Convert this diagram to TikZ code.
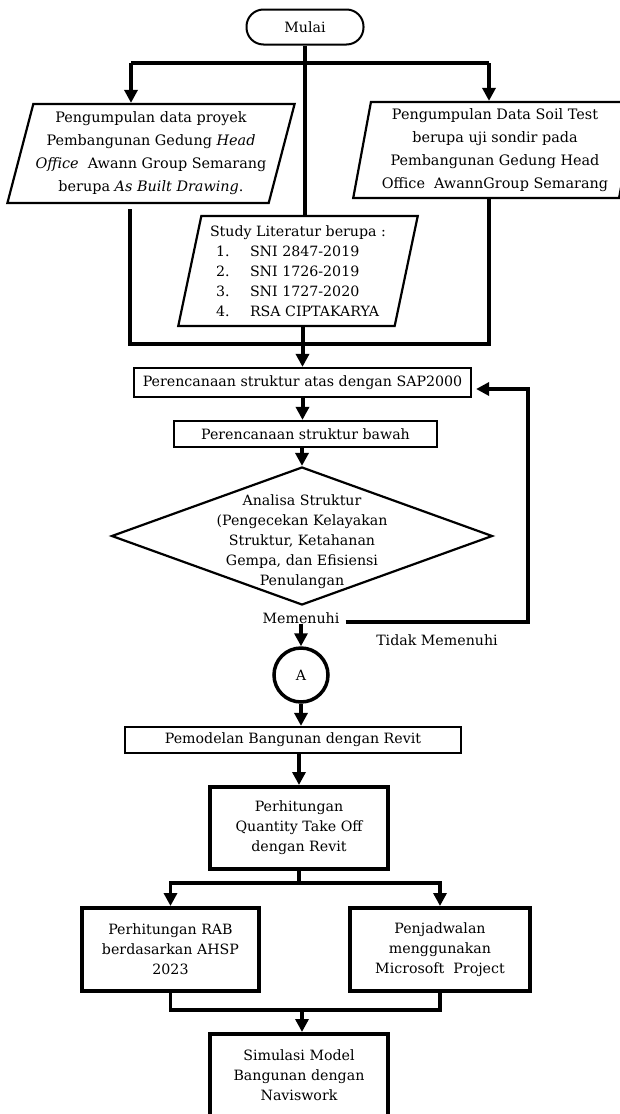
\documentclass[tikz,border=0pt]{standalone}
\usepackage{fontspec}
\setmainfont{DejaVu Serif}
\usetikzlibrary{shapes.geometric,arrows.meta}

\newcommand{\stditem}[2]{\hspace*{6pt}\makebox[34pt][l]{#1}#2}

\begin{document}
\begin{tikzpicture}[
  x=1pt, y=-1pt,
  every node/.style={
    font=\fontsize{14.2}{20}\selectfont, align=center, inner sep=0pt
  },
  proc/.style={
    rectangle, draw, line width=#1
  },
  datain/.style={
    trapezium, draw, line width=2.2pt, trapezium stretches=true
  },
  decision/.style={
    diamond, draw, line width=2.2pt
  },
  flow/.style={
    line width=#1, -{Triangle[length=13pt, width=13pt]}
  },
  flow/.default=4pt,
  link/.style={
    line width=#1
  },
  link/.default=4pt
  ]
  \useasboundingbox (0,0) rectangle (619,1114);

  \node[proc=2pt, rounded corners=17pt, minimum width=117pt, minimum height=35pt] (mulai) at (305,27) {Mulai};

  \node[datain, trapezium left angle=73, trapezium right angle=107,
    minimum width=288pt, minimum height=99pt, font=\fontsize{14.4}{23}\selectfont] (datapro) at (151,153.5)
    {Pengumpulan data proyek\\Pembangunan Gedung \textit{Head}\\\textit{Office}\ \ Awann Group Semarang\\berupa \textit{As Built Drawing}.};
  \node[datain, trapezium left angle=79, trapezium right angle=101,
    minimum width=284pt, minimum height=96pt, font=\fontsize{14.4}{23}\selectfont] (soil) at (495,150)
    {Pengumpulan Data Soil Test\\berupa uji sondir pada\\Pembangunan Gedung Head\\Office\ \ AwannGroup Semarang};
  \node[datain, trapezium left angle=77, trapezium right angle=103,
    minimum width=240pt, minimum height=110pt, align=left] (study) at (298,271)
    {Study Literatur berupa :\\\stditem{1.}{SNI 2847-2019}\\\stditem{2.}{SNI 1726-2019}\\\stditem{3.}{SNI 1727-2020}\\\stditem{4.}{RSA CIPTAKARYA}};

  \coordinate (splitL) at (131,63);
  \coordinate (splitR) at (489,63);
  \coordinate (joinL) at (130,344);
  \coordinate (joinR) at (489,344);
  \draw[link] (mulai.south) -- (mulai.south |- study.north);
  \draw[link] (splitL) -- (splitR);
  \draw[flow] (splitL) -- (splitL |- datapro.north);
  \draw[flow] (splitR) -- (splitR |- soil.north);
  \draw[link] (joinL |- datapro.south) ++(0,5) -- (joinL) -- (joinR) -- (joinR |- soil.south);

  \node[proc=2.2pt, minimum width=337pt, minimum height=29pt] (sap) at (302.5,382.5) {Perencanaan struktur atas dengan SAP2000};
  \node[proc=2.2pt, minimum width=263pt, minimum height=26pt] (bawah) at (305.5,434) {Perencanaan struktur bawah};
  \node[decision, minimum width=381pt, minimum height=138pt] (cek) at (302,536) {};
  \node (cektext) at ([yshift=-6pt]cek.center) {Analisa Struktur\\(Pengecekan Kelayakan\\Struktur, Ketahanan\\Gempa, dan Efisiensi\\Penulangan};
  \node (ya) at (301,618) {Memenuhi};
  \node (tidak) at (437,640) {Tidak Memenuhi};
  \node[circle, draw, line width=3.5pt, minimum size=54pt] (conA) at (301,675) {A};

  \draw[flow] (sap.north |- study.south) -- (sap.north);
  \draw[flow] (sap.south) -- (sap.south |- bawah.north);
  \draw[flow] (bawah.south -| cek.north) -- (cek.north);
  \draw[flow] (ya.south) -- (conA.north);
  \coordinate (back) at (528,389);
  \draw[flow=3.5pt, shorten >=4pt] ([xshift=6pt, yshift=-4pt]ya.east) -- ([yshift=-4pt]ya.east -| back) -- (back) -- (sap.east |- back);

  \node[proc=2.2pt, minimum width=336pt, minimum height=26pt] (model) at (293,740) {Pemodelan Bangunan dengan Revit};
  \node[proc=4pt, minimum width=178pt, minimum height=82pt] (qto) at (299,828) {Perhitungan\\Quantity Take Off\\dengan Revit};
  \node[proc=4pt, minimum width=177pt, minimum height=83pt] (rab) at (170.5,949.5) {Perhitungan RAB\\berdasarkan AHSP\\2023};
  \node[proc=4pt, minimum width=180pt, minimum height=83pt] (jadwal) at (440,949.5) {Penjadwalan\\menggunakan\\Microsoft\ \ Project};
  \node[proc=4pt, minimum width=178pt, minimum height=82pt] (sim) at (299,1075) {Simulasi Model\\Bangunan dengan\\Naviswork};

  \coordinate (fork) at (301,883);
  \coordinate (merge) at (302,1010);
  \draw[flow] (conA.south) -- (conA.south |- model.north);
  \draw[flow] (model.south -| qto.north) -- (qto.north);
  \draw[flow=3.5pt] (qto.south) -- (qto.south |- fork) -| (rab.north);
  \draw[flow=3.5pt] (qto.south) -- (qto.south |- fork) -| (jadwal.north);
  \draw[link=3.5pt] (rab.south) |- (merge) -| (jadwal.south);
  \draw[flow=3.5pt] (merge) -- (merge |- sim.north);
\end{tikzpicture}
\end{document}
